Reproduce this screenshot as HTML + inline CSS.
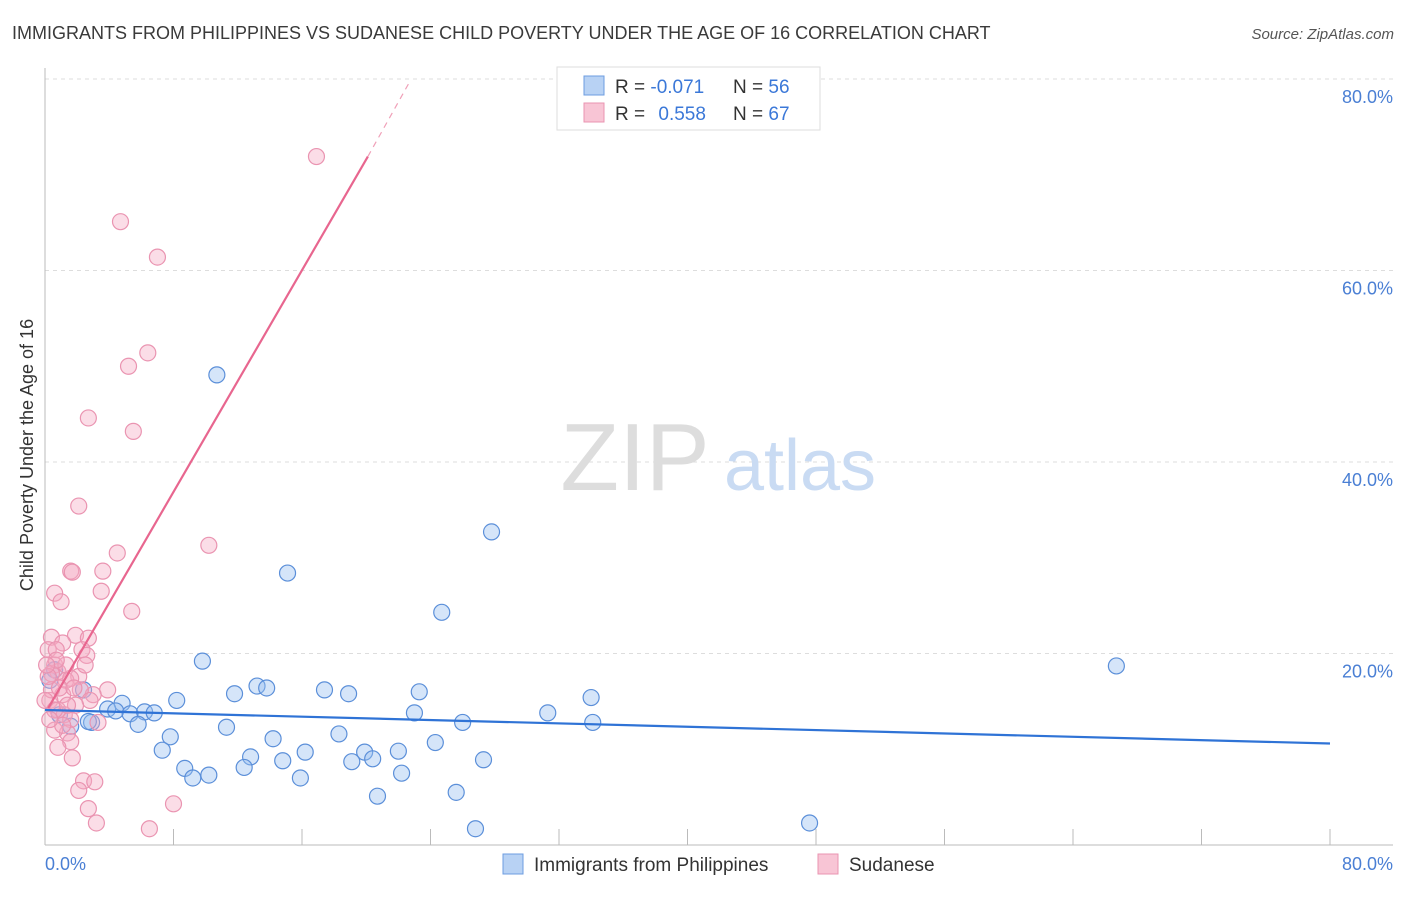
<!DOCTYPE html>
<html><head><meta charset="utf-8"><style>
body{margin:0;background:#fff;font-family:"Liberation Sans",sans-serif;}
svg text{font-family:"Liberation Sans",sans-serif;}
</style></head><body>
<svg id="chart" width="1406" height="892" xmlns="http://www.w3.org/2000/svg">
<text x="12" y="39" font-size="18" fill="#3a3a3a">IMMIGRANTS FROM PHILIPPINES VS SUDANESE CHILD POVERTY UNDER THE AGE OF 16 CORRELATION CHART</text>
<text x="1394" y="39" font-size="15" fill="#555" font-style="italic" text-anchor="end">Source: ZipAtlas.com</text>
<g id="grid"></g>
<g><text x="635" y="490" font-size="96" fill="#ddd" font-family="Liberation Serif,serif" text-anchor="middle">ZIP</text><text x="800" y="490" font-size="72" fill="#c9dbf3" text-anchor="middle">atlas</text></g>
<g id="axes"></g>
<g id="pts"></g>
<g id="trends"></g>
<text x="33" y="455" font-size="18" fill="#333" text-anchor="middle" transform="rotate(-90 33 455)">Child Poverty Under the Age of 16</text>
<text x="45" y="870" font-size="18" fill="#4a7fd4">0.0%</text>
<text x="1393" y="870" font-size="18" fill="#4a7fd4" text-anchor="end">80.0%</text>
<g>
<rect x="557" y="67" width="263" height="63" fill="#fff" stroke="#ddd"/>
<rect x="584" y="76" width="20" height="19" fill="#b8d2f4" stroke="#6d9ce0"/>
<rect x="584" y="103" width="20" height="19" fill="#f8c5d5" stroke="#ea94b1"/>
<text x="615" y="93" font-size="19" fill="#333">R = <tspan fill="#3b78d8">-0.071</tspan></text>
<text x="733" y="93" font-size="19" fill="#333">N = <tspan fill="#3b78d8">56</tspan></text>
<text x="615" y="120" font-size="19" fill="#333">R = <tspan fill="#3b78d8" dx="8">0.558</tspan></text>
<text x="733" y="120" font-size="19" fill="#333">N = <tspan fill="#3b78d8">67</tspan></text>
</g>
<g>
<rect x="503" y="854" width="20" height="20" fill="#b8d2f4" stroke="#6d9ce0"/>
<text x="534" y="871" font-size="19" fill="#333">Immigrants from Philippines</text>
<rect x="818" y="854" width="20" height="20" fill="#f8c5d5" stroke="#ea94b1"/>
<text x="849" y="871" font-size="19" fill="#333">Sudanese</text>
</g>
</svg>
<script>
const yTicks=[20,40,60,80];
const yTickLabels=["20.0%","40.0%","60.0%","80.0%"];
const xTicks=[0,8,16,24,32,40,48,56,64,72,80];
const blueX=[10.7,27.8,15.1,24.7,9.8,66.7,17.4,18.9,23.3,34.0,11.8,13.2,13.8,8.2,4.8,3.9,4.4,5.3,6.2,6.8,23.0,31.3,5.8,11.3,26.0,34.1,2.9,2.7,18.3,7.8,14.2,24.3,16.2,7.3,19.9,22.0,12.8,14.8,19.1,20.4,27.3,12.4,8.7,10.2,9.2,22.2,15.9,20.7,25.6,26.8,47.6,2.4,0.9,1.6,0.6,0.3];
const blueY=[49.1,32.7,28.4,24.3,19.2,18.7,16.2,15.8,16.0,15.4,15.8,16.6,16.4,15.1,14.8,14.2,14.0,13.7,13.9,13.8,13.8,13.8,12.6,12.3,12.8,12.8,12.8,12.9,11.6,11.3,11.1,10.7,9.7,9.9,9.7,9.8,9.2,8.8,8.7,9.0,8.9,8.1,8.0,7.3,7.0,7.5,7.0,5.1,5.5,1.7,2.3,16.2,13.6,12.4,18.3,17.2];
const pinkX=[16.9,4.7,7.0,6.4,5.2,2.7,5.5,2.1,10.2,4.5,1.6,1.7,3.6,3.5,0.6,1.0,5.4,0.4,1.9,2.7,1.1,2.3,2.6,0.2,0.6,0.8,2.1,0.4,1.3,1.6,3.9,1.1,3.0,0.3,0.8,1.2,1.6,3.3,1.4,0.6,1.6,0.8,1.7,2.4,3.1,2.1,2.7,3.2,6.5,8.0,0.4,0.9,1.3,0.2,0.6,0.0,2.2,0.7,2.8,1.9,1.1,0.3,2.5,1.4,0.7,1.8,0.1];
const pinkY=[71.9,65.1,61.4,51.4,50.0,44.6,43.2,35.4,31.3,30.5,28.6,28.5,28.6,26.5,26.3,25.4,24.4,21.7,21.9,21.6,21.1,20.4,19.8,20.4,18.8,18.1,17.6,17.9,17.2,17.4,16.2,15.7,15.7,15.1,14.1,13.6,13.1,12.8,11.7,12.0,10.8,10.2,9.1,6.7,6.6,5.7,3.8,2.3,1.7,4.3,16.2,16.4,18.8,17.6,14.1,15.1,16.2,20.4,15.1,14.6,12.5,13.1,18.8,14.6,19.3,16.4,18.8];
const blueTrend=[[0,14.1],[80,10.6]];
const pinkTrend=[[0.2,14.3],[20.1,71.9]];
const pinkTrendExt=[[20.1,71.9],[22.7,79.7]];
const NS="http://www.w3.org/2000/svg";
const sx=v=>45+v*(1285/80), sy=v=>845-v*(191.5/20);
function mk(tag,attrs,parent){const e=document.createElementNS(NS,tag);for(const k in attrs)e.setAttribute(k,attrs[k]);parent.appendChild(e);return e;}
const grid=document.getElementById('grid'),axes=document.getElementById('axes'),pts=document.getElementById('pts'),tr=document.getElementById('trends');
yTicks.forEach((t,i)=>{
 const l=mk('line',{x1:45,x2:1393,y1:sy(t),y2:sy(t),stroke:'#ddd','stroke-dasharray':'4,4'},grid);
 
 
 const tx=mk('text',{x:1393,y:sy(t)+24,'font-size':18,fill:'#4a7fd4','text-anchor':'end'},axes);
 tx.textContent=yTickLabels[i];
 
 
});
mk('line',{x1:45,x2:45,y1:68,y2:845,stroke:'#bbb'},axes);
mk('line',{x1:45,x2:1393,y1:845,y2:845,stroke:'#bbb'},axes);
xTicks.forEach(t=>{
 const l=mk('line',{x1:sx(t),x2:sx(t),y1:829,y2:845,stroke:'#bbb'},axes);
 
 
});
blueX.forEach((x,i)=>{
 const c=mk('circle',{cx:sx(x),cy:sy(blueY[i]),r:8,fill:'rgba(150,190,240,0.4)',stroke:'#5b8fd9','stroke-width':1.2},pts);
 
 
});
pinkX.forEach((x,i)=>{
 const c=mk('circle',{cx:sx(x),cy:sy(pinkY[i]),r:8,fill:'rgba(245,170,195,0.4)',stroke:'#ea94b1','stroke-width':1.2},pts);
 
 
});
const b=mk('line',{x1:sx(blueTrend[0][0]),y1:sy(blueTrend[0][1]),x2:sx(blueTrend[1][0]),y2:sy(blueTrend[1][1]),stroke:'#2f73d6','stroke-width':2.2},tr);


const p=mk('line',{x1:sx(pinkTrend[0][0]),y1:sy(pinkTrend[0][1]),x2:sx(pinkTrend[1][0]),y2:sy(pinkTrend[1][1]),stroke:'#e8668f','stroke-width':2.2},tr);


const pe=mk('line',{x1:sx(pinkTrendExt[0][0]),y1:sy(pinkTrendExt[0][1]),x2:sx(pinkTrendExt[1][0]),y2:sy(pinkTrendExt[1][1]),stroke:'#f0a0b8','stroke-width':1.2,'stroke-dasharray':'6,5'},tr);


</script>
</body></html>
